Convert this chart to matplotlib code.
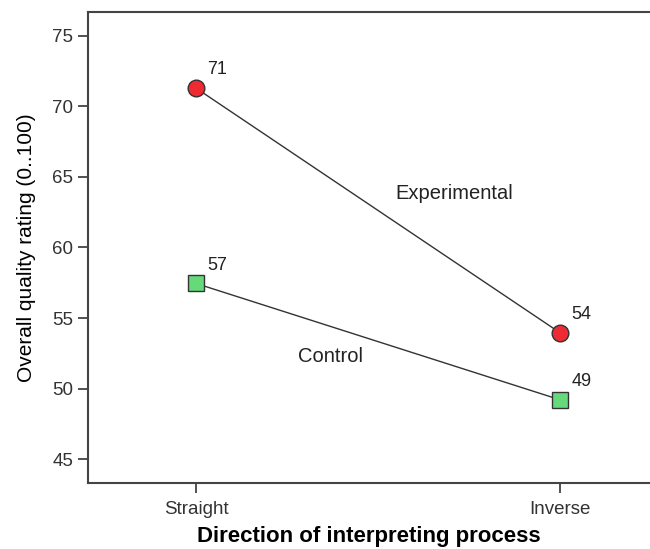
import matplotlib.pyplot as plt

plt.rcParams['font.family'] = ['Liberation Sans', 'DejaVu Sans']

# data
directions = ['Straight', 'Inverse']
experimental = [71.3, 53.95]
control = [57.45, 49.2]
exp_labels = ['71', '54']
ctrl_labels = ['57', '49']

fig = plt.figure(figsize=(6.5, 5.49), dpi=100)
ax = fig.add_axes([0.1354, 0.1202, 0.8646, 0.858])

x = list(range(len(directions)))
ax.plot(x, experimental, color='#333333', lw=1, marker='o', ms=12,
        mfc='#ee2a33', mec='#333333', mew=1, zorder=3)
ax.plot(x, control, color='#333333', lw=1, marker='s', ms=11,
        mfc='#66d97a', mec='#333333', mew=1, zorder=3)

for xi, v, s in zip(x, experimental, exp_labels):
    ax.annotate(s, (xi, v), xytext=(8, 7), textcoords='offset points',
                fontsize=13, color='#222222', va='bottom', ha='left')
for xi, v, s in zip(x, control, ctrl_labels):
    ax.annotate(s, (xi, v), xytext=(8, 7), textcoords='offset points',
                fontsize=13, color='#222222', va='bottom', ha='left')

ax.text(0.71, 63.8, 'Experimental', fontsize=14.5, color='#222222', ha='center', va='center')
ax.text(0.37, 52.3, 'Control', fontsize=14.5, color='#222222', ha='center', va='center')

ax.set_xlim(-0.2967, 1.247)
ax.set_ylim(43.3, 76.7)
ax.set_xticks(x)
ax.set_xticklabels(directions)
ax.set_yticks([45, 50, 55, 60, 65, 70, 75])
ax.tick_params(axis='both', direction='out', length=7, width=1.2, color='#333333',
               labelsize=13.5, labelcolor='#333333')
ax.tick_params(axis='x', pad=6)

ax.spines['right'].set_visible(False)
for sp in ['left', 'top', 'bottom']:
    ax.spines[sp].set_color('#444444')
    ax.spines[sp].set_linewidth(1.5)

ax.set_xlabel('Direction of interpreting process', fontsize=16, fontweight='bold',
              labelpad=6)
ax.set_ylabel('Overall quality rating (0..100)', fontsize=15, labelpad=12)

fig.savefig('out.png', dpi=100)
